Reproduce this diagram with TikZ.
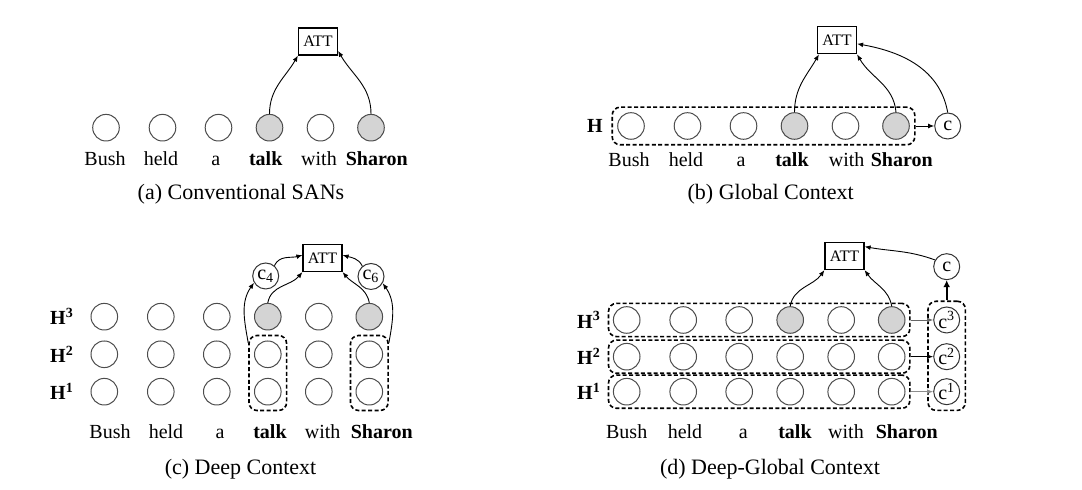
\documentclass[tikz,border=0pt]{standalone}
\usepackage{fontspec}
\setmainfont{Liberation Serif}
\usetikzlibrary{arrows.meta,fit}

\begin{document}
\begin{tikzpicture}[x=0.5pt,y=0.5pt,
  every node/.style={font=\fontsize{10}{12}\selectfont},
  tok/.style={circle,draw=black!70,line width=0.5pt,minimum size=13.3pt,inner sep=0pt},
  hit/.style={tok,fill=black!17},
  ctx/.style={circle,draw=black!80,line width=0.5pt,minimum size=13pt,inner sep=0pt},
  attbox/.style={draw,line width=0.6pt,minimum width=19.5pt,minimum height=13.5pt,inner sep=0pt,font=\fontsize{8}{9}\selectfont},
  grp/.style={draw,dash pattern=on 2pt off 1.2pt,line width=0.8pt,rounded corners=4pt,inner sep=2.5pt},
  arr/.style={-{Latex[length=3pt,width=2.4pt]},line width=0.45pt},
  captxt/.style={font=\fontsize{11}{13}\selectfont,anchor=base}]
  \useasboundingbox (0,0) rectangle (1082,490);

  % (a) conventional SANs
  \foreach \dx/\s [count=\i] in {0/tok,56.5/tok,112.5/tok,163.5/hit,214.5/tok,265/hit}
    \node[\s] (sa\i) at (106+\dx,362.3) {};
  \foreach \wx/\w [count=\i] in {105/Bush,161/held,215.7/a,265.7/\textbf{talk},319/with,376.7/\textbf{Sharon}}
    \node[anchor=base] (wa\i) at (\wx,324) {\w};
  \node[attbox] (attA) at (318,448.5) {ATT};
  \draw[arr] (sa4.north) to[out=90,in=-120] (attA.south west);
  \draw[arr] (sa6.north) to[out=90,in=-60] (attA.-25);
  \node[captxt] (capA) at (241,290) {(a) Conventional SANs};

  % (b) global context
  \foreach \dx/\s [count=\i] in {0/tok,56.5/tok,112.5/tok,163.5/hit,214.5/tok,265/hit}
    \node[\s] (gc\i) at (631+\dx,364) {};
  \foreach \wx/\w [count=\i] in {629/Bush,686/held,741/a,792/\textbf{talk},846.7/with,901.7/\textbf{Sharon}}
    \node[anchor=base] (wb\i) at (\wx,323.3) {\w};
  \node (hB) at (595,364) {\textbf{H}};
  \node[grp,fit=(gc1)(gc6)] (rowB) {};
  \node[ctx] (cB) at (947.7,364) {c};
  \node[attbox] (attB) at (837,449.7) {ATT};
  \draw[arr] (rowB.east) -- (cB.west);
  \draw[arr] (gc4.north) to[out=90,in=-120] (attB.-142);
  \draw[arr] (gc6.north) to[out=95,in=-60] (attB.south east);
  \draw[arr] (cB.north) to[out=100,in=-10] (attB.-10);
  \node[captxt] (capB) at (770.7,290) {(b) Global Context};

  % (c) deep context
  \foreach \ry [count=\r] in {98.3,135.7} {
    \foreach \dx [count=\i] in {0,56.5,112.5,163.5,214.5,265}
      \node[tok] (dc\r\i) at (104.3+\dx,\ry) {};
  }
  \foreach \dx/\s [count=\i] in {0/tok,56.5/tok,112.5/tok,163.5/hit,214.5/tok,265/hit}
    \node[\s] (dc3\i) at (104.3+\dx,173.3) {};
  \foreach \wx/\w [count=\i] in {110/Bush,166/held,220/a,270/\textbf{talk},322.7/with,381.7/\textbf{Sharon}}
    \node[anchor=base] (wc\i) at (\wx,51) {\w};
  \node (hc1) at (62,98.3) {\textbf{H\textsuperscript{1}}};
  \node (hc2) at (62,135.7) {\textbf{H\textsuperscript{2}}};
  \node (hc3) at (62,173.3) {\textbf{H\textsuperscript{3}}};
  \node[grp,fit=(dc14)(dc24)] (colT) {};
  \node[grp,fit=(dc16)(dc26)] (colS) {};
  \node[ctx] (c4) at (265.7,214) {c\textsubscript{4}};
  \node[ctx] (c6) at (371,213.5) {c\textsubscript{6}};
  \node[attbox] (attC) at (322.5,232) {ATT};
  \draw[arr] (colT.123) to[out=100,in=-125] (c4.210);
  \draw[arr] (colS.57) to[out=80,in=-55] (c6.-30);
  \draw[arr] (c4.50) to[out=65,in=-165] (attC.172);
  \draw[arr] (c6.130) to[out=115,in=-15] (attC.8);
  \draw[arr] (dc34.north) to[out=80,in=-130] (attC.south west);
  \draw[arr] (dc36.north) to[out=100,in=-50] (attC.south east);
  \node[captxt] (capC) at (240.5,15) {(c) Deep Context};

  % (d) deep-global context
  \foreach \ry [count=\r] in {98.3,133.3} {
    \foreach \dx [count=\i] in {0,56.5,112.5,163.5,214.5,265}
      \node[tok] (dg\r\i) at (626.7+\dx,\ry) {};
  }
  \foreach \dx/\s [count=\i] in {0/tok,56.5/tok,112.5/tok,163.5/hit,214.5/tok,265/hit}
    \node[\s] (dg3\i) at (626.7+\dx,170) {};
  \foreach \wx/\w [count=\i] in {626.7/Bush,685/held,743.3/a,795/\textbf{talk},846/with,906.7/\textbf{Sharon}}
    \node[anchor=base] (wd\i) at (\wx,51) {\w};
  \node (hd1) at (589,98.3) {\textbf{H\textsuperscript{1}}};
  \node (hd2) at (589,133.3) {\textbf{H\textsuperscript{2}}};
  \node (hd3) at (589,170) {\textbf{H\textsuperscript{3}}};
  \foreach \r in {1,2,3}
    \node[grp,inner ysep=1.4pt,inner xsep=2.2pt,fit=(dg\r1)(dg\r6)] (rowD\r) {};
  \node[ctx] (k1) at (946.7,98.3) {c\textsuperscript{1}};
  \node[ctx] (k2) at (946.7,133.3) {c\textsuperscript{2}};
  \node[ctx] (k3) at (946.7,170) {c\textsuperscript{3}};
  \node[grp,inner sep=2.6pt,fit=(k1)(k3)] (kcol) {};
  \node[ctx] (cD) at (946.7,223.3) {c};
  \node[attbox] (attD) at (844.5,234) {ATT};
  \draw[arr,black!45] (rowD1.east) -- (k1.west);
  \draw[arr] (rowD2.east) -- (k2.west);
  \draw[arr,black!60] (rowD3.east) -- (k3.west);
  \draw[-{Latex[length=3.5pt,width=3.5pt]},line width=1.1pt] (kcol.north) -- (cD.south);
  \draw[arr] (cD.150) to[out=160,in=-10] (attD.25);
  \draw[arr] (dg34.north) to[out=80,in=-125] (attD.south west);
  \draw[arr] (dg36.north) to[out=100,in=-55] (attD.south east);
  \node[captxt] (capD) at (770,15) {(d) Deep-Global Context};
\end{tikzpicture}
\end{document}
